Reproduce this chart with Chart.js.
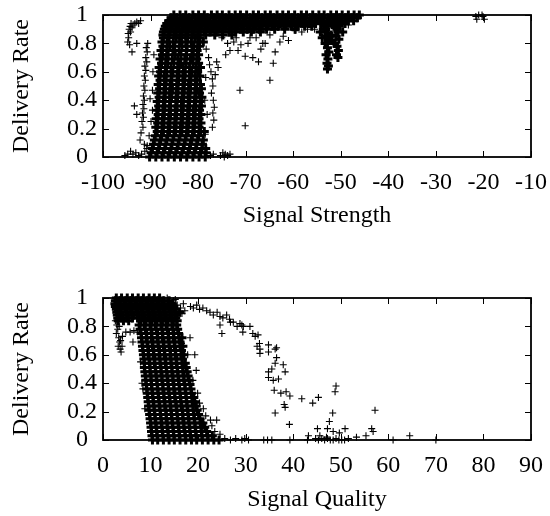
<!DOCTYPE html>
<html>
<head>
<meta charset="utf-8">
<script src="https://cdn.jsdelivr.net/npm/chart.js@4"></script>
<style>
  body { margin: 0; background: #fff; }
  .box { position: absolute; left: 0; width: 550px; height: 258px; }
</style>
</head>
<body>
<div class="box" style="top:0"><canvas id="strength" width="550" height="258"></canvas></div>
<div class="box" style="top:258px"><canvas id="quality" width="550" height="258"></canvas></div>
<script>
// ---- signal strength plot ----
// upper band, one x list per delivery-rate row
const strengthBandY = [1.0, 0.98, 0.96, 0.94, 0.92, 0.90, 0.88, 0.86];
const strengthBandX = [
  [-85.1,-83.8,-82.6,-81.1,-79.9,-78.7,-77.2,-76,-74.9,-73.5,-72.2,-71.1,-69.8,-68.4,-67.3,-65.9,-64.8,-63.4,-62.2,-61,-59.7,-58.3,-57.2,-55.9,-54.6,-53.5,-52.1,-50.9,-49.7,-48.4,-47.2,-46.1],
  [-85.7,-84.5,-83.1,-81.9,-80.6,-79.3,-78.1,-76.7,-75.5,-74.2,-73,-71.6,-70.5,-69.1,-67.9,-66.6,-65.3,-64.1,-62.8,-61.5,-60.3,-59,-57.8,-56.4,-55.3,-54,-52.7,-51.5,-50.2,-49,-47.7,-46.5],
  [-86.2,-85,-83.7,-82.4,-81.3,-79.9,-78.6,-77.5,-76.2,-74.8,-73.7,-72.4,-71.2,-69.9,-68.6,-67.4,-66.1,-64.8,-63.6,-62.3,-61.1,-59.8,-58.5,-57.3,-56,-54.7,-53.5,-52.2,-50.9,-49.7,-48.4,-47.3],
  [-86.6,-85.4,-84.1,-82.8,-81.6,-80.4,-79.2,-77.9,-76.6,-75.4,-74.1,-72.9,-71.6,-70.4,-69.1,-67.8,-66.6,-65.4,-64.1,-62.8,-61.6,-60.3,-59.1,-57.8,-56.6,-55.3,-54.1,-52.8,-51.6,-50.3,-49.1],
  [-86.9,-85.7,-84.4,-83.2,-81.9,-80.7,-79.5,-78.2,-77,-75.7,-74.5,-73.2,-72,-70.7,-69.4,-68.2,-67,-65.7,-64.4,-63.1,-61.9,-60.5,-59,-57.6,-56.1,-53.6,-52.7,-51.1,-50.3],
  [-87.1,-85.9,-84.7,-83.4,-82.2,-81,-79.7,-78.5,-77.3,-76,-74.8,-73.5,-72.3,-71,-69.7,-68.4,-67.1,-65.6,-63.9,-61.8,-59.6,-53.2,-50.8],
  [-87.3,-86.1,-84.9,-83.7,-82.4,-81.2,-80,-78.7,-77.5,-76.2,-74.9,-73.5,-72.1,-70.5,-68.8,-66.9],
  [-87.4,-86.2,-85,-83.8,-82.6,-81.3,-80.1,-78.4,-76.5,-74.8,-72.9]
];
// dense vertical core
const strengthCoreY = [0.84,0.81,0.78,0.75,0.72,0.69,0.66,0.63,0.6,0.57,0.54,0.51,0.48,0.45,0.42,0.39,0.36,0.33,0.3,0.27,0.24,0.21,0.18,0.15,0.12,0.09,0.06,0.03,0];
const strengthCoreX = [
  [-87.3,-86.1,-84.6,-83.5,-82.2,-80.7,-79.6],
  [-87.6,-86.5,-85.2,-83.9,-82.6,-81.4,-80.1,-78.9],
  [-87.4,-86,-84.9,-83.4,-82.3,-80.9,-79.7],
  [-87.8,-86.6,-85.3,-84,-82.5,-81.3,-80.2],
  [-87.5,-86.3,-84.8,-83.6,-82.4,-81,-79.9],
  [-88,-86.8,-85.4,-84.2,-82.8,-81.6,-80.3],
  [-87.7,-86.4,-85.1,-83.7,-82.5,-81.1,-79.9],
  [-88.2,-86.9,-85.7,-84.3,-83.1,-81.8,-80.5,-79.5],
  [-87.9,-86.6,-85.3,-84,-82.7,-81.3,-80.1],
  [-88.3,-87.1,-85.7,-84.4,-83.2,-81.8,-80.6,-79.6],
  [-88,-86.7,-85.5,-84.1,-82.8,-81.5,-80.2],
  [-88.4,-87.1,-85.9,-84.5,-83.2,-82,-80.6,-79.5],
  [-88.1,-86.8,-85.4,-84.2,-82.9,-81.6,-80.3,-79.3],
  [-88.5,-87.2,-86,-84.6,-83.3,-82.1,-80.7,-79.7],
  [-88.2,-86.9,-85.6,-84.3,-83,-81.7,-80.4,-79.2],
  [-88.6,-87.3,-86,-84.7,-83.5,-82.1,-80.8,-79.6],
  [-88.3,-87,-85.8,-84.4,-83.1,-81.8,-80.5,-79.3],
  [-88.7,-87.4,-86.1,-84.8,-83.5,-82.2,-81,-79.7],
  [-88.4,-87.1,-85.8,-84.5,-83.2,-81.9,-80.6,-79.4],
  [-88.8,-87.5,-86.2,-84.9,-83.6,-82.3,-81,-79.8],
  [-88.5,-87.2,-85.9,-84.6,-83.3,-82,-80.7,-79.4],
  [-88.9,-87.6,-86.3,-85,-83.7,-82.4,-81.1,-79.8],
  [-88.6,-87.3,-86,-84.7,-83.4,-82.1,-80.8,-79.5,-78.7],
  [-89,-87.7,-86.4,-85.1,-83.8,-82.5,-81.2,-79.9],
  [-89.2,-87.9,-86.6,-85.3,-84,-82.7,-81.4,-80.1,-78.9],
  [-89.4,-88.1,-86.8,-85.5,-84.2,-82.9,-81.6,-80.3,-79.1],
  [-89.6,-88.3,-87,-85.7,-84.4,-83.1,-81.8,-80.5,-79.2,-78.4],
  [-89.9,-88.6,-87.3,-86,-84.7,-83.4,-82.1,-80.8,-79.5,-78.3],
  [-90.2,-88.9,-87.6,-86.3,-85,-83.7,-82.4,-81.1,-79.8,-78.5]
];
// the drop near -53 dBm
const strengthDip = [
  [-54.3,0.88],[-53.9,0.84],[-53.2,0.9],[-52.6,0.87],[-53,0.85],[-52.4,0.82],[-53.3,0.8],[-52.8,0.77],
  [-52.5,0.74],[-53.1,0.72],[-52.7,0.69],[-52.9,0.66],[-52.6,0.64],[-52.8,0.62],[-51.2,0.91],[-50.6,0.88],
  [-51,0.85],[-50.4,0.83],[-51.3,0.8],[-50.8,0.78],[-50.5,0.75],[-50.9,0.72],[-50.6,0.7],[-52,0.86],
  [-51.8,0.82],[-49.6,0.88]
];
// scattered single readings
const strengthSparse = [
  [-94.8,0.81],[-94.6,0.84],[-94.7,0.87],[-94.5,0.9],[-94.3,0.92],[-94.1,0.94],[-93.7,0.93],[-93.3,0.94],
  [-92.9,0.95],[-92.5,0.94],[-92.1,0.96],[-94.2,0.88],[-93.9,0.91],[-94.4,0.79],[-93.9,0.74],[-92.9,0.8],
  [-90.6,0.8],[-90.9,0.77],[-90.7,0.74],[-91,0.7],[-90.8,0.67],[-91.2,0.64],[-91,0.61],[-91.3,0.57],
  [-91.1,0.54],[-91.4,0.5],[-91.2,0.47],[-91.5,0.43],[-91.3,0.4],[-91.6,0.37],[-91.4,0.34],[-91.7,0.31],
  [-91.5,0.28],[-91.8,0.25],[-91.6,0.21],[-92,0.17],[-92.2,0.12],[-91.3,0.09],[-90.7,0.08],
  [-92.9,0.3],[-93.4,0.36],[-89.6,0.33],[-89.6,0.47],[-90.1,0.41],[-89.5,0.6],[-89.3,0.72],[-89.9,0.25],[-90.3,0.15],
  [-95.4,0.01],[-94.8,0.02],[-94.2,0.04],[-93.7,0.02],[-93.1,0.03],[-92.5,0.01],[-91.9,0.02],[-91.2,0.04],[-90.8,0.06],
  [-78.3,0.76],[-77.8,0.7],[-77.6,0.65],[-77.3,0.6],[-77,0.55],[-76.9,0.5],[-77.2,0.45],[-76.8,0.4],
  [-76.6,0.35],[-76.9,0.31],[-76.7,0.26],[-77,0.21],[-78.4,0.56],[-78.6,0.4],[-78.1,0.3],[-78.5,0.16],
  [-76.1,0.67],[-75.8,0.63],[-76.4,0.58],[-71.2,0.47],[-70.1,0.22],[-64.9,0.54],
  [-73.3,0.75],[-73.8,0.8],[-72.5,0.81],[-71.6,0.75],[-71,0.79],[-70.1,0.71],[-69.5,0.8],[-69.1,0.84],
  [-68.5,0.7],[-67.3,0.67],[-66.4,0.8],[-65.9,0.8],[-64.9,0.86],[-64.2,0.66],[-63.8,0.74],[-62.1,0.85],
  [-61,0.82],[-59.6,0.89],[-58.2,0.88],[-57,0.9],[-55.5,0.9],[-48.4,0.93],[-75,0.84],[-74.2,0.72],
  [-72,0.84],[-67.8,0.84],[-66.8,0.76],[-62.8,0.81],
  [-77.4,0.01],[-76.8,0.02],[-75.3,0.01],[-74.8,0.03],[-74.3,0.02],[-73.8,0.01],[-73.3,0.02],[-74.5,0],
  [-21.6,0.99],[-21.4,0.97],[-21,1],[-20.1,0.99],[-19.8,0.97],[-20.3,1]
];

// ---- signal quality plot ----
const qualityBlockY = [1.0, 0.98, 0.96, 0.94, 0.92, 0.90, 0.88, 0.86, 0.84];
const qualityBlockX = [
  [2.8,3.9,5.1,6.2,7.4,8.5,9.7,10.8,11.9],
  [2.6,3.6,4.8,5.9,7.1,8.2,9.4,10.5,11.7,12.8,13.9],
  [2.5,3.3,4.5,5.6,6.8,7.9,9.1,10.2,11.4,12.5,13.7,14.6],
  [2.6,3.5,4.7,5.8,7,8.1,9.3,10.4,11.6,12.7,13.9,14.9],
  [2.8,3.8,5,6.1,7.3,8.4,9.6,10.7,11.9,13,14.2,15.2],
  [2.9,3.7,4.9,6,7.2,8.3,9.5,10.6,11.8,12.9,14.1,15.3,16.1],
  [3,4.1,5.3,6.4,7.6,8.7,9.9,11,12.2,13.3,14.5,15.5],
  [3.1,3.9,5,6.2,7.3,8.5,9.6,10.8,11.9,13.1,14.2,15.3],
  [3.2,4.3,5.4,7.9,9,10.2,11.3,12.5,13.6,14.8,15.6]
];
const qualityBandY = [0.81,0.78,0.75,0.72,0.69,0.66,0.63,0.6,0.57,0.54,0.51,0.48,0.45,0.42,0.39,0.36,0.33,0.3,0.27,0.24,0.21,0.18,0.15,0.12,0.09,0.06,0.03,0];
const qualityBandX = [
  [7.6,8.7,9.9,11,12.2,13.3,14.5,15.5],
  [7.8,8.9,10.1,11.2,12.4,13.5,14.7,15.7],
  [8,9.2,10.3,11.5,12.6,13.8,14.9,15.9],
  [8.1,9.1,10.2,11.4,12.5,13.7,14.8,16,16.6],
  [8.2,9.3,10.5,11.6,12.8,13.9,15.1,16.2],
  [8.3,9.4,10.4,11.6,12.7,13.9,15,16.2,16.8],
  [8.4,9.6,10.7,11.9,13,14.2,15.3,16.5],
  [8.5,9.5,10.6,11.8,12.9,14.1,15.2,16.4,17],
  [8.6,9.7,10.9,12,13.2,14.3,15.5,16.7],
  [8.7,9.8,10.8,12,13.1,14.3,15.4,16.6,17.3],
  [8.7,9.9,11,12.2,13.3,14.5,15.6,16.8,17.5],
  [8.8,9.9,11.1,12.2,13.4,14.5,15.7,16.8,17.7],
  [8.9,10.1,11.2,12.4,13.5,14.7,15.8,17,17.9],
  [9,10.1,11.3,12.4,13.6,14.7,15.9,17,18.1],
  [9.1,10.2,11.4,12.6,13.7,14.9,16,17.2,18.3],
  [9.2,10.3,11.5,12.6,13.8,14.9,16.1,17.3,18.5],
  [9.3,10.4,11.6,12.8,13.9,15.1,16.2,17.4,18.6],
  [9.4,10.5,11.7,12.8,14,15.1,16.3,17.5,18.7,19.1],
  [9.5,10.6,11.8,13,14.1,15.3,16.4,17.6,18.8,19.3],
  [9.6,10.7,11.9,13,14.2,15.4,16.5,17.7,18.9,19.6],
  [9.7,10.8,12,13.2,14.3,15.5,16.7,17.8,19,19.8],
  [9.8,10.9,12.1,13.3,14.4,15.6,16.8,17.9,19.1,20.1],
  [9.9,11,12.2,13.3,14.5,15.7,16.8,18,19.2,20.4],
  [10,11.1,12.3,13.5,14.6,15.8,17,18.1,19.3,20.5,21],
  [10.1,11.2,12.4,13.5,14.7,15.9,17,18.2,19.4,20.6,21.4],
  [10.2,11.3,12.5,13.7,14.8,16,17.2,18.3,19.5,20.7,21.8],
  [10.3,11.4,12.6,13.7,14.9,16.1,17.3,18.4,19.6,20.8,22,23],
  [10.4,11.5,12.7,13.9,15,16.2,17.4,18.6,19.7,20.9,22.1,23.3,24.4]
];
const qualitySparse = [
  [2.6,0.84],[2.9,0.81],[3.1,0.78],[2.8,0.75],[3.3,0.72],[3.5,0.69],[3.2,0.66],[3.6,0.64],[3.8,0.62],
  [4,0.66],[3.7,0.7],[4.1,0.73],[3.4,0.8],
  [4.8,0.76],[5.7,0.76],[6.5,0.77],[7.3,0.76],[6.3,0.69],
  [16.5,0.68],[18.3,0.72],[19.3,0.6],[19.6,0.49],[17.8,0.6],[18.9,0.42],[19.9,0.33],[20.3,0.26],
  [21.1,0.22],[21.6,0.17],[22.6,0.14],[23.9,0.14],[22.9,0.1],[23.5,0.06],[24.6,0.04],[8.8,0.22],
  [8.2,0.4],[8.4,0.36],[7.9,0.55],[15.6,0.95],[16.3,0.93],[16.9,0.96],[17.2,0.91],[14.8,0.98],
  [13.5,1],[15.2,0.99],[16.6,0.89],
  [25.6,0.01],[26.8,0],[27.9,0.01],[29.2,0],[29.8,0.01],[30.6,0],[33.8,0],[34.6,0],[35.5,0],[39.3,0],
  [43,0],[44.7,0.01],[45.3,0],[46,0.01],[46.6,0],[47.2,0.01],[47.8,0],[48.4,0],[49,0.01],[49.6,0],
  [50.2,0],[50.8,0],[51.6,0.01],[61,0],[70,0],
  [18.4,0.94],[19,0.93],[19.7,0.95],[20.3,0.92],[21,0.93],[21.8,0.91],[22.5,0.9],[23.2,0.88],[24,0.9],
  [24.6,0.87],[25.2,0.86],[26,0.88],[26.6,0.85],[24.6,0.81],[25,0.75],[26.8,0.83],[27.4,0.83],[28.2,0.8],
  [28.8,0.82],[29.2,0.81],[29.5,0.8],[29.4,0.76],[30.9,0.8],[31.5,0.75],[32,0.73],[32.6,0.74],[32.9,0.68],
  [33,0.64],[33,0.61],[32.4,0.66],[34.8,0.67],[34.8,0.62],[36.2,0.64],[36.5,0.65],[36.5,0.58],[36.2,0.54],
  [35.5,0.5],[34.8,0.48],[34.8,0.44],[35.8,0.42],[36.9,0.43],[37.9,0.53],[38.3,0.48],[36,0.35],[37.4,0.33],
  [38.5,0.34],[39.3,0.31],[38.1,0.25],[38.3,0.23],[36.2,0.19],[39.2,0.11],[41.8,0.29],[44.1,0.26],[45.3,0.3],
  [49,0.38],[48.8,0.34],[48.3,0.19],[47.6,0.13],[45.1,0.08],[47.2,0.08],[48.4,0.06],[49.7,0.05],[50.9,0.08],
  [43.2,0.03],[45.6,0.03],[47,0.02],[53.3,0.02],[55.3,0.03],[56.5,0.08],[56.8,0.06],[57.2,0.21],[64.5,0.03]
];

function rowPoints(ys, xs) {
  const pts = [];
  ys.forEach((y, i) => xs[i].forEach(x => pts.push({ x, y })));
  return pts;
}
const pairPoints = list => list.map(([x, y]) => ({ x, y }));

Chart.defaults.font.family = '"Liberation Serif", "Times New Roman", serif';
Chart.defaults.font.size = 24;
Chart.defaults.color = '#000';

// gnuplot-like border with inward ticks on all four sides
const frame = {
  id: 'frame',
  afterDatasetsDraw(chart) {
    const { ctx, chartArea: a, scales: { x, y } } = chart;
    ctx.save();
    ctx.strokeStyle = '#000';
    ctx.lineWidth = 1;
    ctx.beginPath();
    x.ticks.forEach(t => {
      const px = Math.round(x.getPixelForValue(t.value)) + 0.5;
      ctx.moveTo(px, a.bottom); ctx.lineTo(px, a.bottom - 6);
      ctx.moveTo(px, a.top); ctx.lineTo(px, a.top + 6);
    });
    y.ticks.forEach(t => {
      const py = Math.round(y.getPixelForValue(t.value)) + 0.5;
      ctx.moveTo(a.left, py); ctx.lineTo(a.left + 6, py);
      ctx.moveTo(a.right, py); ctx.lineTo(a.right - 6, py);
    });
    ctx.stroke();
    ctx.lineWidth = 1.8;
    ctx.strokeRect(a.left, a.top, a.right - a.left, a.bottom - a.top);
    ctx.restore();
  }
};

// keep the plot box fixed: axis sizes set by hand, label overhang ignored
const fixX = h => s => { s.height = h; s.paddingLeft = 0; s.paddingRight = 0; };
const fixY = s => { s.width = 103; s.paddingTop = 0; s.paddingBottom = 0; };

function plot(id, cfg) {
  return new Chart(document.getElementById(id), {
    type: 'scatter',
    data: {
      datasets: [
        { data: cfg.dense, pointStyle: 'cross', pointRadius: 4.5, pointBorderWidth: 3,
          pointBorderColor: '#000', borderColor: '#000', clip: false },
        { data: cfg.sparse, pointStyle: 'cross', pointRadius: 3.5, pointBorderWidth: 1.1,
          pointBorderColor: '#000', borderColor: '#000', clip: false }
      ]
    },
    options: {
      responsive: false,
      animation: false,
      events: [],
      layout: { padding: { top: cfg.top, right: 19, left: 0, bottom: 0 } },
      plugins: { legend: { display: false }, tooltip: { enabled: false } },
      scales: {
        x: {
          type: 'linear', min: cfg.xMin, max: cfg.xMax,
          ticks: { stepSize: 10, padding: 11, autoSkip: false, maxRotation: 0, minRotation: 0 },
          grid: { display: false, drawTicks: false },
          border: { display: false },
          title: { display: true, text: cfg.xTitle, padding: { top: 0, bottom: cfg.titlePad } },
          afterFit: fixX(cfg.xHeight)
        },
        y: {
          min: 0, max: 1,
          ticks: { stepSize: 0.2, padding: 6, crossAlign: 'center', autoSkip: false,
                   callback: v => String(Number(v.toFixed(1))) },
          grid: { display: false, drawTicks: false },
          border: { display: false },
          title: { display: true, text: 'Delivery Rate', padding: { top: 7, bottom: 0 } },
          afterFit: fixY
        }
      }
    },
    plugins: [frame]
  });
}

plot('strength', {
  xMin: -100, xMax: -10, xTitle: 'Signal Strength', top: 15, xHeight: 101, titlePad: 28,
  dense: rowPoints(strengthBandY, strengthBandX)
    .concat(rowPoints(strengthCoreY, strengthCoreX), pairPoints(strengthDip)),
  sparse: pairPoints(strengthSparse)
});

plot('quality', {
  xMin: 0, xMax: 90, xTitle: 'Signal Quality', top: 40, xHeight: 76, titlePad: 2,
  dense: rowPoints(qualityBlockY, qualityBlockX).concat(rowPoints(qualityBandY, qualityBandX)),
  sparse: pairPoints(qualitySparse)
});
</script>
</body>
</html>
